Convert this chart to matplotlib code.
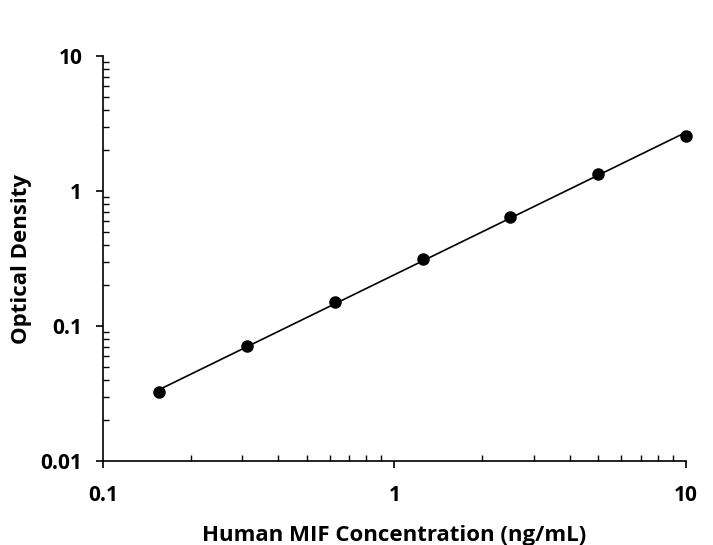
import numpy as np
import matplotlib
matplotlib.use("Agg")
import matplotlib.pyplot as plt
from matplotlib.ticker import LogLocator, FixedLocator, NullFormatter

conc = [0.156, 0.313, 0.625, 1.25, 2.5, 5.0, 10.0]
od = [0.0324, 0.0711, 0.150, 0.312, 0.640, 1.35, 2.58]
xticks = [0.1, 1, 10]
xticklabels = ["0.1", "1", "10"]
yticks = [0.01, 0.1, 1, 10]
yticklabels = ["0.01", "0.1", "1", "10"]

plt.rcParams['font.family'] = ['Open Sans', 'DejaVu Sans']
fig = plt.figure(figsize=(7.13, 5.45), dpi=100)
ax = fig.add_axes([0.1445, 0.154, 0.8175, 0.743])

lx = np.log10(conc)
ly = np.log10(od)
slope, inter = np.polyfit(lx, ly, 1)
fx = np.array([lx[0], lx[-1]])
ax.plot(10**fx, 10**(slope * fx + inter), color='black', lw=1.2, zorder=2, clip_on=False)
ax.plot(conc, od, 'o', color='black', markersize=8, zorder=3, clip_on=False)

ax.set_xscale('log')
ax.set_yscale('log')
ax.set_xlim(0.1, 10)
ax.set_ylim(0.01, 10)
ax.spines['top'].set_visible(False)
ax.spines['right'].set_visible(False)
for s in ['left', 'bottom']:
    ax.spines[s].set_linewidth(1.2)

ax.xaxis.set_major_locator(FixedLocator(xticks))
ax.set_xticklabels(xticklabels)
ax.yaxis.set_major_locator(FixedLocator(yticks))
ax.set_yticklabels(yticklabels)
ax.xaxis.set_minor_locator(LogLocator(base=10, subs=np.arange(2, 10)))
ax.yaxis.set_minor_locator(LogLocator(base=10, subs=np.arange(2, 10)))
ax.xaxis.set_minor_formatter(NullFormatter())
ax.yaxis.set_minor_formatter(NullFormatter())

ax.tick_params(which='major', direction='out', length=5, width=1.2, labelsize=15)
ax.tick_params(axis='y', which='major', pad=10)
ax.tick_params(axis='x', which='major', pad=12)
ax.tick_params(which='minor', direction='in', length=4, width=1.0)
for lab in ax.get_xticklabels() + ax.get_yticklabels():
    lab.set_fontweight('bold')

ax.set_xlabel('Human MIF Concentration (ng/mL)', fontsize=16, fontweight='bold', labelpad=14)
ax.set_ylabel('Optical Density', fontsize=16, fontweight='bold', labelpad=6)

fig.savefig('out.png', dpi=100)
